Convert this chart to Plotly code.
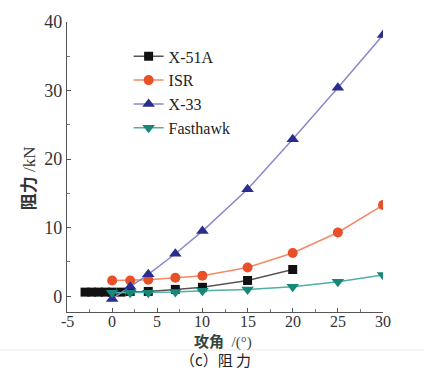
import plotly.graph_objects as go

# Drag force vs. angle of attack for four hypersonic vehicles
x_51a_aoa = [-3, -2.25, -1.5, -0.75, 0, 1, 2, 4, 7, 10, 15, 20]
x_51a_drag = [0.6, 0.6, 0.6, 0.6, 0.6, 0.6, 0.7, 0.7, 1.0, 1.3, 2.3, 3.9]

isr_aoa = [0, 2, 4, 7, 10, 15, 20, 25, 30]
isr_drag = [2.3, 2.3, 2.4, 2.7, 3.0, 4.2, 6.3, 9.3, 13.3]

x_33_aoa = [0, 2, 4, 7, 10, 15, 20, 25, 30]
x_33_drag = [-0.4, 1.4, 3.2, 6.2, 9.5, 15.6, 22.9, 30.4, 38.1]

fasthawk_aoa = [0, 2, 4, 7, 10, 15, 20, 25, 30]
fasthawk_drag = [0.5, 0.5, 0.5, 0.6, 0.8, 1.0, 1.4, 2.1, 3.1]

x_ticks = [-5, 0, 5, 10, 15, 20, 25, 30]
y_ticks = [0, 10, 20, 30, 40]

SERIF = "Liberation Serif"
CJK = "Noto Sans CJK SC"

fig = go.Figure()

series = [
    ("X-51A", x_51a_aoa, x_51a_drag, "square", 9, "#111111", "#555555"),
    ("ISR", isr_aoa, isr_drag, "circle", 10, "#e8502a", "#f28a66"),
    ("X-33", x_33_aoa, x_33_drag, "triangle-up", 11, "#2b2d8c", "#8a88cc"),
    ("Fasthawk", fasthawk_aoa, fasthawk_drag, "triangle-down", 11, "#17877a", "#4fb0a6"),
]

for name, xs, ys, sym, size, mcol, lcol in series:
    fig.add_trace(go.Scatter(
        x=xs, y=ys, name=name, mode="lines+markers",
        line=dict(color=lcol, width=1.5),
        marker=dict(symbol=sym, size=size, color=mcol, line=dict(width=0)),
    ))

axis_common = dict(
    showgrid=False, zeroline=False, showline=True,
    linecolor="#555555", linewidth=1.2,
    ticks="inside", ticklen=4, tickcolor="#555555", tickwidth=1,
)

# x tick labels are placed as annotations so they sit close to the axis line
fig.update_xaxes(
    range=[-5, 30], tickvals=x_ticks, showticklabels=False,
    minor=dict(ticks="inside", ticklen=2.5, dtick=2.5, tickcolor="#777777"),
    **axis_common,
)
fig.update_yaxes(
    range=[-2.3, 40], tickvals=y_ticks, ticktext=[str(v) for v in y_ticks],
    tickfont=dict(family=SERIF, size=18, color="#333333"),
    minor=dict(ticks="inside", ticklen=2.5, dtick=5, tickcolor="#777777"),
    **axis_common,
)

for v in x_ticks:
    fig.add_annotation(
        text=str(v), xref="x", x=v, xanchor="center",
        yref="paper", y=0, yanchor="middle", yshift=-9,
        showarrow=False,
        font=dict(family=SERIF, size=16, color="#333333"),
    )

fig.add_annotation(
    text=f"<span style=\"font-family:'{CJK}';font-weight:bold\">阻力</span> /kN",
    xref="paper", x=0, xanchor="center", xshift=-40,
    yref="y", y=17.2, yanchor="middle",
    textangle=-90, showarrow=False,
    font=dict(family=SERIF, size=17, color="#333333"),
)
fig.add_annotation(
    text=f"<span style=\"font-family:'{CJK}';font-weight:bold\">攻角</span>  /(°)",
    xref="x", x=12.3, xanchor="center",
    yref="paper", y=0, yanchor="middle", yshift=-28,
    showarrow=False,
    font=dict(family=SERIF, size=15, color="#34443a"),
)
fig.add_annotation(
    text="（c）阻 力",
    xref="paper", x=0.5, xanchor="center", xshift=-10,
    yref="paper", y=0, yanchor="middle", yshift=-47,
    showarrow=False,
    font=dict(family=CJK, size=15, color="#222222"),
)
# faint separator above the caption
fig.add_shape(
    type="line", xref="paper", yref="paper",
    x0=-0.25, x1=1.2, y0=0, y1=0, ysizemode="pixel", yanchor=0,
    line=dict(color="#ececec", width=1),
)
fig.update_shapes(y0=-38, y1=-38)

fig.update_layout(
    width=424, height=370,
    margin=dict(l=67, r=41, t=19, b=58),
    paper_bgcolor="white", plot_bgcolor="white",
    showlegend=True,
    legend=dict(
        x=0.195, y=0.94, xanchor="left", yanchor="top",
        bgcolor="rgba(0,0,0,0)", borderwidth=0,
        font=dict(family=SERIF, size=16, color="#222222"),
        itemwidth=30, tracegroupgap=0,
    ),
)

fig.write_html("out.html")
